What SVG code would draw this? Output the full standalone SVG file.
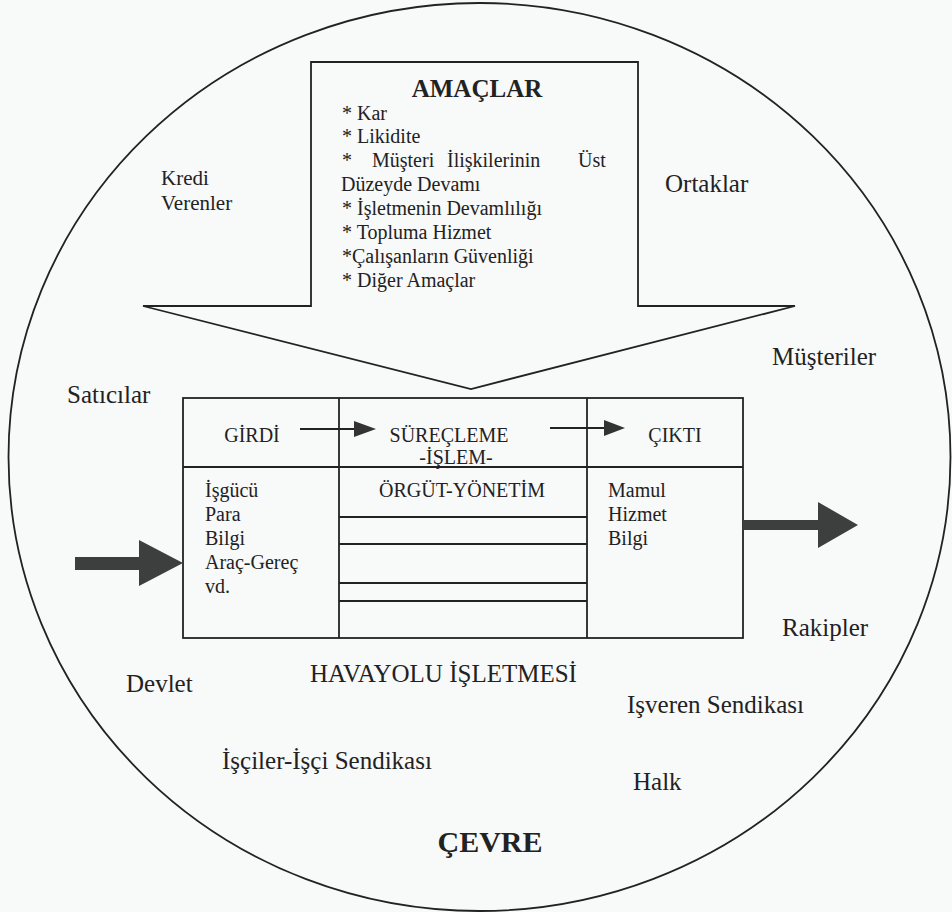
<svg xmlns="http://www.w3.org/2000/svg" width="952" height="912" viewBox="0 0 952 912">
  <style>
    .t { font-family: "Liberation Serif", "Times New Roman", serif; fill: #222; }
    .out { font-size: 25px; }
    .cell { font-size: 20px; }
    .line { stroke: #222; stroke-width: 1.8; fill: none; }
    .bold { font-weight: bold; }
  </style>
  <defs>
    <marker id="head" markerWidth="12" markerHeight="10" refX="11" refY="5" orient="auto" markerUnits="userSpaceOnUse">
      <path d="M0,0 L12,5 L0,10 Z" fill="#333"/>
    </marker>
  </defs>

  <rect width="952" height="912" fill="#f8f9f9"/>

  <!-- environment circle -->
  <g id="cevre">
    <ellipse cx="479.5" cy="457" rx="471" ry="454" class="line"/>
    <text class="t bold" x="490" y="852" font-size="30" text-anchor="middle">ÇEVRE</text>
  </g>

  <!-- goals block arrow -->
  <g id="amaclar">
    <path d="M311,62 L638,62 L638,306 L795,306 L471,389 L143,306 L311,306 Z" class="line" fill="#fbfcfc"/>
    <text class="t bold" x="477" y="97" font-size="25" text-anchor="middle">AMAÇLAR</text>
    <g class="t cell">
      <text x="342" y="120">* Kar</text>
      <text x="342" y="143">* Likidite</text>
      <text x="342" y="167">*</text>
      <text x="372" y="167">Müşteri</text>
      <text x="447" y="167">İlişkilerinin</text>
      <text x="578" y="167">Üst</text>
      <text x="341" y="191">Düzeyde Devamı</text>
      <text x="342" y="215">* İşletmenin Devamlılığı</text>
      <text x="342" y="239">* Topluma Hizmet</text>
      <text x="342" y="263">*Çalışanların Güvenliği</text>
      <text x="342" y="287">* Diğer Amaçlar</text>
    </g>
  </g>

  <!-- environment actors -->
  <g id="kredi-verenler" class="t" font-size="21">
    <text x="161" y="185">Kredi</text>
    <text x="161" y="210">Verenler</text>
  </g>
  <g id="ortaklar"><text class="t out" x="665" y="192">Ortaklar</text></g>
  <g id="musteriler"><text class="t out" x="772" y="365">Müşteriler</text></g>
  <g id="saticilar"><text class="t out" x="67" y="403">Satıcılar</text></g>
  <g id="rakipler"><text class="t out" x="782" y="636">Rakipler</text></g>
  <g id="devlet"><text class="t out" x="126" y="692">Devlet</text></g>
  <g id="isveren"><text class="t out" x="627" y="713">Işveren Sendikası</text></g>
  <g id="isciler"><text class="t out" x="222" y="769">İşçiler-İşçi Sendikası</text></g>
  <g id="halk"><text class="t out" x="633" y="790">Halk</text></g>

  <!-- airline business system table -->
  <g id="isletme">
    <rect x="183" y="398" width="560" height="240" class="line"/>
    <line x1="339" y1="398" x2="339" y2="638" class="line"/>
    <line x1="587" y1="398" x2="587" y2="638" class="line"/>
    <line x1="183" y1="467" x2="743" y2="467" class="line"/>
    <line x1="339" y1="517" x2="587" y2="517" class="line"/>
    <line x1="339" y1="544" x2="587" y2="544" class="line"/>
    <line x1="339" y1="583" x2="587" y2="583" class="line"/>
    <line x1="339" y1="601" x2="587" y2="601" class="line"/>
    <g class="t cell">
      <text x="252" y="442" text-anchor="middle">GİRDİ</text>
      <text x="449" y="442" text-anchor="middle">SÜREÇLEME</text>
      <text x="456" y="464" text-anchor="middle">-İŞLEM-</text>
      <text x="675" y="442" text-anchor="middle">ÇIKTI</text>
      <text x="205" y="497">İşgücü</text>
      <text x="205" y="521">Para</text>
      <text x="205" y="545">Bilgi</text>
      <text x="205" y="569">Araç-Gereç</text>
      <text x="205" y="593">vd.</text>
      <text x="462" y="497" text-anchor="middle">ÖRGÜT-YÖNETİM</text>
      <text x="608" y="497">Mamul</text>
      <text x="608" y="521">Hizmet</text>
      <text x="608" y="545">Bilgi</text>
    </g>
    <text class="t out" x="310" y="682">HAVAYOLU İŞLETMESİ</text>
  </g>

  <!-- flows -->
  <g id="connectors">
    <path d="M300,429 L356,429" stroke="#222" stroke-width="2"/>
    <path d="M354,421 L376,429 L354,437 Z" fill="#333"/>
    <path d="M550,428 L606,428" stroke="#222" stroke-width="2"/>
    <path d="M604,420 L625,428 L604,436 Z" fill="#333"/>
    <!-- input arrow -->
    <path d="M75,557 L139,557 L139,540 L183,563 L139,586 L139,570 L75,570 Z" fill="#3d3f3e"/>
    <!-- output arrow -->
    <path d="M743,520 L818,520 L818,502 L858,525 L818,548 L818,530 L743,530 Z" fill="#3d3f3e"/>
  </g>
</svg>
